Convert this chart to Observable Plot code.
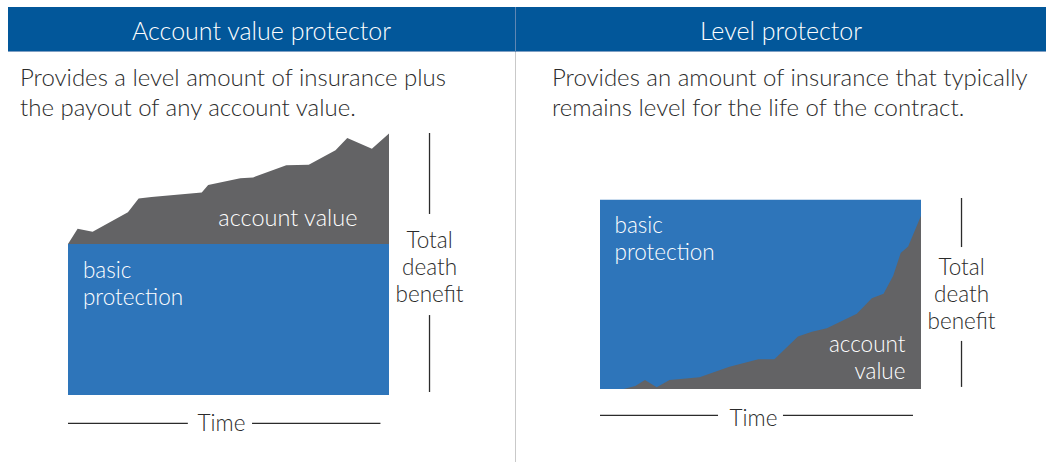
<!DOCTYPE html>
<html>
<head>
<meta charset="utf-8">
<script src="https://cdn.jsdelivr.net/npm/d3@7"></script>
<script src="https://cdn.jsdelivr.net/npm/@observablehq/plot@0.6"></script>
<style>
  html, body { margin: 0; padding: 0; background: #fff; }
  #root { position: relative; width: 1046px; height: 462px; overflow: hidden; font-family: Lato, "Open Sans", sans-serif; font-weight: 300; }
  .hdr { position: absolute; top: 7px; height: 44px; background: #02579a; border-bottom: 1px solid #7f9fc3;
         color: #fff; font-size: 25px; line-height: 46px; text-align: center; font-weight: 300; }
  .sub { position: absolute; top: 62px; color: #2b2b2b; font-size: 24px; line-height: 30px; white-space: nowrap; font-weight: 300; }
  .divider { position: absolute; left: 515px; top: 7px; width: 1px; height: 455px; background: #c9c9c9; }
  .hdrdiv { position: absolute; left: 515px; top: 7px; width: 1px; height: 45px; background: #5f86b3; }
  .panel { position: absolute; top: 120px; }
</style>
</head>
<body>
<div id="root">
  <div class="divider"></div>
  <div class="hdr" id="h1" style="left:8px;width:507px;"></div>
  <div class="hdr" id="h2" style="left:516px;width:530px;"></div>
  <div class="hdrdiv"></div>
  <div class="sub" id="s1" style="left:20px;"></div>
  <div class="sub" id="s2" style="left:552px;"></div>
  <div class="panel" id="p1" style="left:0px;"></div>
  <div class="panel" id="p2" style="left:523px;"></div>
</div>
<script>
// ---- Titles and texts
const titles = ["Account value protector", "Level protector"];
const subtitles = [
  "Provides a level amount of insurance plus<br>the payout of any account value.",
  "Provides an amount of insurance that typically<br>remains level for the life of the contract."
];
const labelBasic = "basic\nprotection";
const labelAccountLeft = "account value";
const labelAccountRight = "account\nvalue";
const labelTotal = "Total\ndeath\nbenefit";
const labelTime = "Time";

// ---- Data: Account value protector (time in years, values relative to basic protection = 100)
const avpYears   = [0, 0.9, 2.3, 5.6, 6.6, 7.8, 12.5, 13.1, 16.1, 17.3, 20.4, 22.5, 25.0, 26.1, 28.4, 30];
const avpAccount = [0, 10,  8,   21,  30,  31,  34,   39,   43.5, 44,   52,   52.3, 62,   70,   63,   73];
const avpBasic = 100;

// ---- Data: Level protector (total death benefit stays at 100; account value grows inside it)
const lpYears   = [0, 2.2, 3.3, 4.2, 5.3, 6.5, 9.3, 12.1, 14.8, 16.3, 18.5, 19.8, 21.2, 24.0, 25.4, 26.5, 27.4, 28.1, 28.8, 30];
const lpAccount = [0, 0,   1.6, 4.8, 0.9, 4.8, 6.2, 11.8, 15.7, 15.7, 27.7, 30.3, 32.1, 39.7, 48.0, 50.3, 59.8, 71.8, 75.3, 91.5];
const lpLevel = 100;

const BLUE = "#2e75ba";
const GRAY = "#636365";
const INK = "#2b2b2b";
const FONT = "Lato, 'Open Sans', sans-serif";

document.getElementById("h1").textContent = titles[0];
document.getElementById("h2").textContent = titles[1];
document.getElementById("s1").innerHTML = subtitles[0];
document.getElementById("s2").innerHTML = subtitles[1];

const avpData = avpYears.map((year, i) => ({year, account: avpAccount[i]}));
const lpData = lpYears.map((year, i) => ({year, account: lpAccount[i]}));

const common = {
  width: 523,
  height: 342,
  x: {domain: [0, 30], axis: null},
  style: {fontFamily: FONT, background: "transparent", overflow: "visible"}
};

const txt = {fontFamily: FONT, fontSize: 22.5, fontWeight: 300, lineHeight: 1.2};

// Left panel
const left = Plot.plot({
  ...common,
  marginLeft: 68, marginRight: 134, marginTop: 3, marginBottom: 67,
  y: {domain: [0, 180], axis: null},
  marks: [
    Plot.areaY(avpData, {x: "year", y1: 0, y2: avpBasic, fill: BLUE}),
    Plot.areaY(avpData, {x: "year", y1: avpBasic, y2: d => avpBasic + d.account, fill: GRAY}),
    Plot.text([labelAccountLeft], {x: 27.0, y: 118, text: d => d, textAnchor: "end", fill: "white", ...txt, fontSize: 23.5}),
    Plot.text([labelBasic], {x: 1.35, y: 74.3, text: d => d, textAnchor: "start", fill: "white", ...txt}),
    Plot.text([labelTotal], {x: 33.74, y: 85.3, text: d => d, fill: INK, ...txt}),
    Plot.ruleX([33.74], {y1: 119.8, y2: 173.4, stroke: INK, strokeWidth: 1.3}),
    Plot.ruleX([33.74], {y1: 2, y2: 52.9, stroke: INK, strokeWidth: 1.3}),
    Plot.text([labelTime], {x: 14.3, y: -17.5, text: d => d, fill: INK, ...txt}),
    Plot.ruleY([-18.5], {x1: 0, x2: 11.2, stroke: INK, strokeWidth: 1.3}),
    Plot.ruleY([-18.5], {x1: 17.2, x2: 29.2, stroke: INK, strokeWidth: 1.3})
  ]
});
document.getElementById("p1").append(left);

// Right panel
const right = Plot.plot({
  ...common,
  marginLeft: 77, marginRight: 125, marginTop: 4, marginBottom: 73,
  y: {domain: [0, 140], axis: null},
  marks: [
    Plot.areaY(lpData, {x: "year", y1: 0, y2: lpLevel, fill: BLUE}),
    Plot.areaY(lpData, {x: "year", y1: 0, y2: "account", fill: GRAY}),
    Plot.text([labelBasic], {x: 1.31, y: 80.1, text: d => d, textAnchor: "start", fill: "white", ...txt}),
    Plot.text([labelAccountRight], {x: 28.5, y: 17.3, text: d => d, textAnchor: "end", fill: "white", ...txt}),
    Plot.text([labelTotal], {x: 33.74, y: 50.8, text: d => d, fill: INK, ...txt}),
    Plot.ruleX([33.74], {y1: 75, y2: 100.9, stroke: INK, strokeWidth: 1.3}),
    Plot.ruleX([33.74], {y1: 1.1, y2: 25.4, stroke: INK, strokeWidth: 1.3}),
    Plot.text([labelTime], {x: 14.3, y: -14.5, text: d => d, fill: INK, ...txt}),
    Plot.ruleY([-13.7], {x1: 0, x2: 11.03, stroke: INK, strokeWidth: 1.3}),
    Plot.ruleY([-13.7], {x1: 17.1, x2: 29.25, stroke: INK, strokeWidth: 1.3})
  ]
});
document.getElementById("p2").append(right);
</script>
</body>
</html>
